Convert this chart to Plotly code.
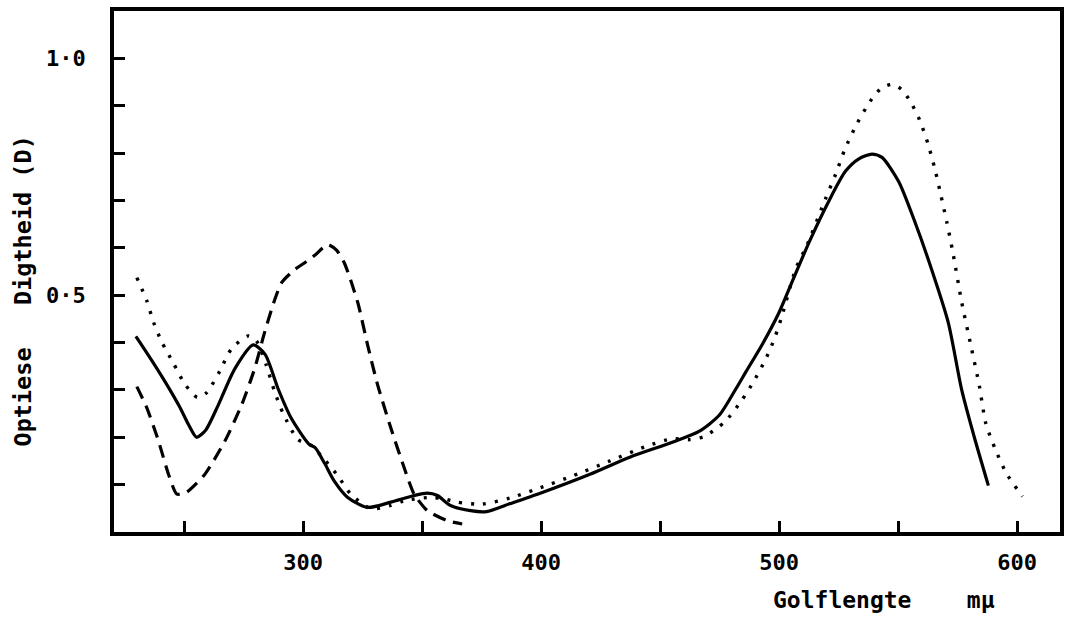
import plotly.graph_objects as go

# Wavelength (m\u03bc) and optical density readings for the three spectra
solid_x = [229.7, 236, 242, 248, 252, 255.2, 259, 264.3, 271.3, 279, 284, 289.4, 295,
           302.5, 305, 309, 313, 318.7, 327, 336.8, 346.6, 352.2, 356.4, 361.9, 370.3, 377,
           387, 399.6, 420.5, 437.2, 455.4, 466.5, 474.9, 481.9, 486, 493, 500, 505.6, 512.6,
           521, 527.9, 533.5, 539, 543.2, 550.2, 557, 563, 571, 576.7, 582, 587.9]
solid_y = [0.413, 0.365, 0.317, 0.265, 0.225, 0.200, 0.215, 0.268, 0.345, 0.395, 0.375,
           0.303, 0.240, 0.185, 0.178, 0.145, 0.108, 0.073, 0.052, 0.063, 0.077, 0.082, 0.077,
           0.056, 0.045, 0.043, 0.060, 0.082, 0.122, 0.158, 0.190, 0.213, 0.247, 0.303, 0.338,
           0.397, 0.464, 0.530, 0.612, 0.700, 0.762, 0.788, 0.798, 0.791, 0.740, 0.655, 0.570,
           0.443, 0.300, 0.200, 0.098]

dotted_x = [230.1, 234.3, 237.1, 240.6, 245.5, 250.3, 255.6, 259.4, 265, 269.9, 276.9, 280.3,
            284.5, 288, 291.5, 297.8, 303.3, 308.9, 314.5, 320, 328.5, 336.8, 342.4, 353.6,
            359.1, 364.7, 375.2, 387, 398.2, 413.5, 428.9, 444.2, 455.4, 462.3, 468.6, 477,
            484, 490, 494.7, 498.2, 501.1, 507, 511.8, 519.5, 523.7, 527.6, 532.8, 539, 543.2,
            547.4, 551.3, 555, 559, 562.5, 565.5, 568, 570.4, 573, 576.7, 580.5, 584.1,
            586.8, 590.7, 595.5, 602.2]
dotted_y = [0.537, 0.488, 0.443, 0.401, 0.356, 0.312, 0.284, 0.294, 0.340, 0.387, 0.414, 0.404,
            0.352, 0.296, 0.251, 0.195, 0.183, 0.153, 0.119, 0.080, 0.049, 0.056, 0.066, 0.073,
            0.070, 0.063, 0.059, 0.072, 0.091, 0.119, 0.150, 0.181, 0.197, 0.195, 0.202, 0.232,
            0.276, 0.324, 0.369, 0.411, 0.455, 0.556, 0.607, 0.704, 0.755, 0.808, 0.863, 0.915,
            0.938, 0.945, 0.935, 0.910, 0.870, 0.820, 0.765, 0.710, 0.655, 0.590, 0.485, 0.395,
            0.309, 0.230, 0.176, 0.124, 0.075]

dashed_x = [230.1, 234.3, 239.2, 243.4, 246.9, 251, 258.7, 267.1, 274.1, 279.6, 283.8, 288,
            291, 296.4, 300.5, 305, 310.3, 314, 317.3, 322.9, 327.1, 331.3, 336.8, 342.4,
            346.6, 352.2, 360.5, 366.8]
dashed_y = [0.307, 0.262, 0.192, 0.122, 0.080, 0.084, 0.122, 0.192, 0.268, 0.345, 0.422, 0.490,
            0.527, 0.554, 0.568, 0.585, 0.607, 0.595, 0.568, 0.485, 0.394, 0.310, 0.220, 0.136,
            0.080, 0.045, 0.024, 0.017]

x_ticks = [250, 300, 350, 400, 450, 500, 550, 600]
x_tick_text = ["", "300", "", "400", "", "500", "", "600"]
y_ticks = [0.1, 0.2, 0.3, 0.4, 0.5, 0.6, 0.7, 0.8, 0.9, 1.0]
y_tick_text = ["", "", "", "", "0\u00b75", "", "", "", "", "1\u00b70"]

FONT = "DejaVu Sans Mono"

fig = go.Figure()
fig.add_trace(go.Scatter(x=solid_x, y=solid_y, mode="lines",
                         line=dict(color="black", width=3.2, shape="spline", smoothing=0.7)))
fig.add_trace(go.Scatter(x=dotted_x, y=dotted_y, mode="lines",
                         line=dict(color="black", width=3.4, shape="spline", smoothing=0.7,
                                   dash="3px,9px")))
fig.add_trace(go.Scatter(x=dashed_x, y=dashed_y, mode="lines",
                         line=dict(color="black", width=3.2, shape="spline", smoothing=0.6,
                                   dash="13px,8px")))

axis_common = dict(showline=True, linecolor="black", linewidth=3.5, mirror=True,
                   ticks="inside", ticklen=11, tickwidth=2.5, tickcolor="black",
                   showgrid=False, zeroline=False,
                   tickfont=dict(family=FONT, size=22, color="black", weight="bold"))

fig.update_layout(
    width=1071, height=620,
    margin=dict(l=114, r=7, t=7, b=88),
    paper_bgcolor="white", plot_bgcolor="white",
    showlegend=False,
    xaxis=dict(range=[220.5, 618], tickvals=x_ticks, ticktext=x_tick_text,
               ticklabelstandoff=8, **axis_common),
    yaxis=dict(range=[0, 1.1], tickvals=y_ticks, ticktext=y_tick_text,
               ticklabelstandoff=20, **axis_common),
    annotations=[
        dict(text="Golflengte    m\u03bc", xref="paper", yref="paper",
             x=0.694, y=-0.13, xanchor="left", yanchor="middle", showarrow=False,
             font=dict(family=FONT, size=23, color="black", weight="bold")),
        dict(text="Optiese   Digtheid (D)", xref="paper", yref="paper",
             x=-0.096, y=0.462, xanchor="center", yanchor="middle", textangle=-90,
             showarrow=False,
             font=dict(family=FONT, size=23.5, color="black", weight="bold")),
    ],
)

fig.write_html("out.html")
